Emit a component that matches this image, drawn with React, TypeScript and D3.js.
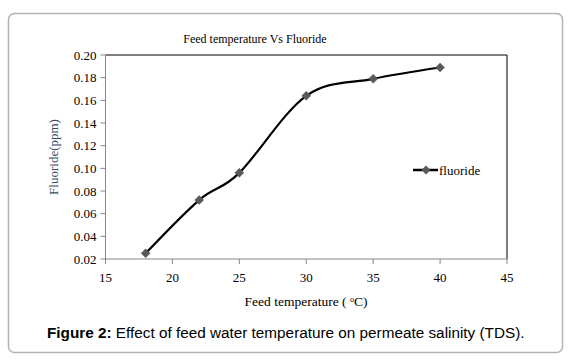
import React from 'react';
import * as d3 from 'd3';

const temps = [18, 22, 25, 30, 35, 40];
const fluoride = [0.025, 0.072, 0.096, 0.164, 0.179, 0.189];
const xTicks = [15, 20, 25, 30, 35, 40, 45];
const yTicks = [0.02, 0.04, 0.06, 0.08, 0.1, 0.12, 0.14, 0.16, 0.18, 0.2];

const serif = '"Liberation Serif", "Times New Roman", serif';

const App: React.FC = () => {
  const x = d3.scaleLinear().domain([15, 45]).range([105.5, 507]);
  const y = d3.scaleLinear().domain([0.02, 0.2]).range([259, 55]);

  const points = temps.map((t, i) => ({ t, v: fluoride[i] }));
  const line = d3
    .line<{ t: number; v: number }>()
    .x(d => x(d.t))
    .y(d => y(d.v))
    .curve(d3.curveCardinal.tension(0));

  const diamond = (cx: number, cy: number, r = 4.5) =>
    `M${cx},${cy - r}L${cx + r},${cy}L${cx},${cy + r}L${cx - r},${cy}Z`;

  return (
    <svg width={571} height={360} style={{ display: 'block', position: 'absolute', left: 0, top: 0 }}>
      <rect x={0} y={0} width={571} height={360} fill="#fff" />
      <rect x={8.5} y={13.5} width={554} height={339} rx={6} fill="#fff" stroke="#b3b3b3" strokeWidth={1.5} />

      <text x={255} y={43} textAnchor="middle" fontFamily={serif} fontSize={12} fill="#000">
        Feed temperature Vs Fluoride
      </text>

      {/* plot frame */}
      <line x1={x(15)} x2={x(45)} y1={y(0.2)} y2={y(0.2)} stroke="#000" strokeWidth={1} />
      <line x1={x(45)} x2={x(45)} y1={y(0.2)} y2={y(0.02)} stroke="#000" strokeWidth={1} />
      <line x1={x(15)} x2={x(15)} y1={y(0.2)} y2={y(0.02)} stroke="#868686" strokeWidth={1} />
      <line x1={x(15)} x2={x(45)} y1={y(0.02)} y2={y(0.02)} stroke="#868686" strokeWidth={1} />

      {yTicks.map(t => (
        <g key={t}>
          <line x1={x(15) - 5} x2={x(15)} y1={y(t)} y2={y(t)} stroke="#868686" />
          <text x={x(15) - 9} y={y(t) + 4.5} textAnchor="end" fontFamily={serif} fontSize={13} fill="#000">
            {t.toFixed(2)}
          </text>
        </g>
      ))}
      {xTicks.map(t => (
        <g key={t}>
          <line x1={x(t)} x2={x(t)} y1={y(0.02)} y2={y(0.02) + 5} stroke="#868686" />
          <text x={x(t)} y={y(0.02) + 23} textAnchor="middle" fontFamily={serif} fontSize={13} fill="#000">
            {t}
          </text>
        </g>
      ))}

      <text
        transform={`translate(58,${(y(0.2) + y(0.02)) / 2}) rotate(-90)`}
        textAnchor="middle"
        fontFamily={serif}
        fontSize={13}
        fill="#3b4a5e"
      >
        Fluoride(ppm)
      </text>

      <text x={306} y={306} textAnchor="middle" fontFamily={serif} fontSize={13.5} fill="#000">
        Feed temperature ( <tspan fontSize={8} dy={-4}>o</tspan><tspan dy={4}>C)</tspan>
      </text>

      <path d={line(points) || ''} fill="none" stroke="#000" strokeWidth={2.2} />
      {points.map(p => (
        <path key={p.t} d={diamond(x(p.t), y(p.v))} fill="#595959" stroke="#595959" strokeWidth={0.5} />
      ))}

      {/* legend */}
      <line x1={413} x2={438} y1={170} y2={170} stroke="#000" strokeWidth={2.5} />
      <path d={diamond(426, 170)} fill="#595959" />
      <text x={439} y={174.5} fontFamily={serif} fontSize={13} fill="#000">
        fluoride
      </text>

      <text x={47} y={338} fontFamily='"Liberation Sans", Arial, sans-serif' fontSize={15.3} fill="#000">
        <tspan fontWeight="bold">Figure 2:</tspan> Effect of feed water temperature on permeate salinity (TDS).
      </text>
    </svg>
  );
};

export default App;
